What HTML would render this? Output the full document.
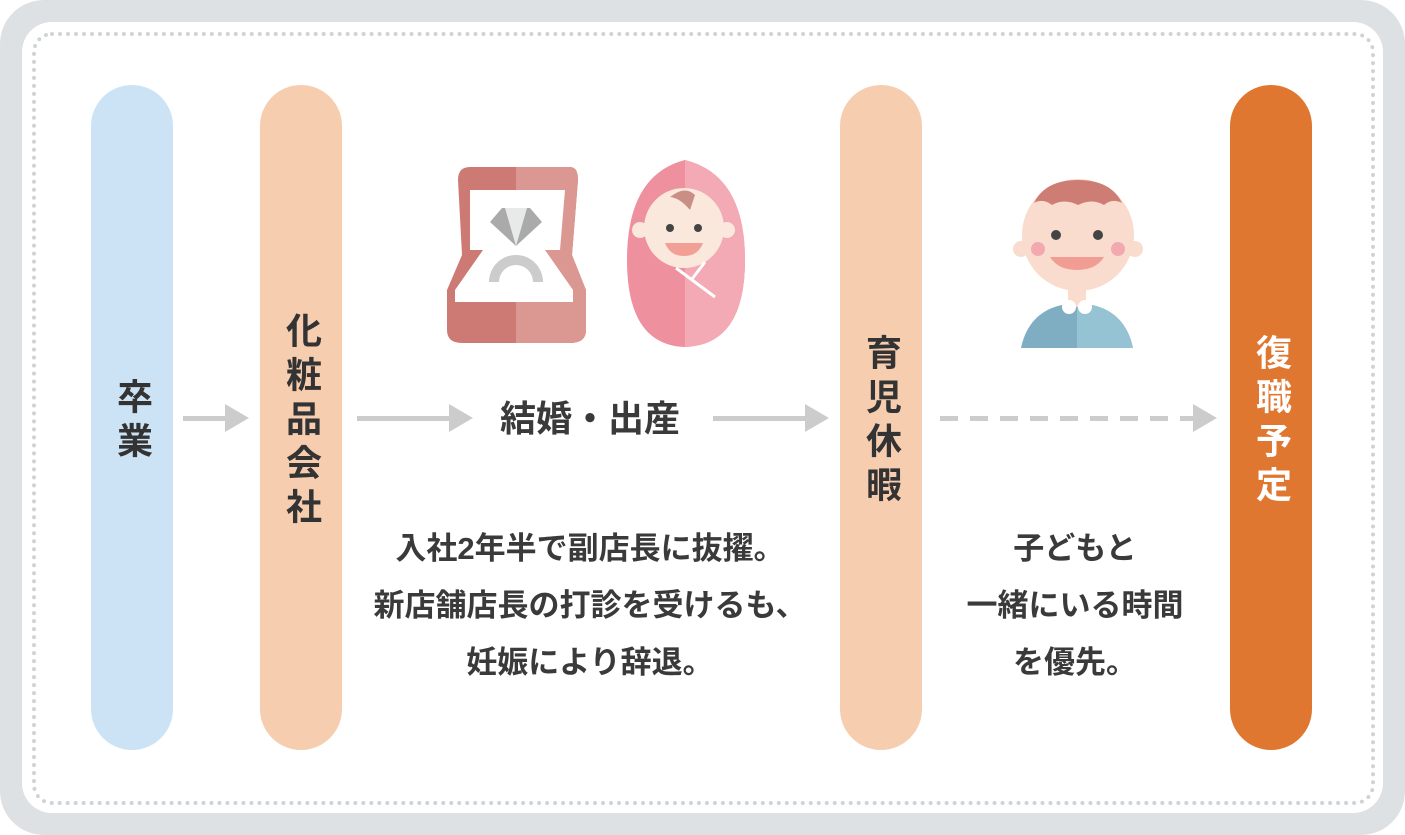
<!DOCTYPE html><html><head><meta charset="utf-8"><style>
body{margin:0;width:1405px;height:835px;background:#fff;position:relative;overflow:hidden;font-family:"Liberation Sans","Noto Sans CJK JP",sans-serif;color:#333}
.outer{position:absolute;left:0;top:0;width:1405px;height:835px;border-radius:44px;background:#dde1e3}
.inner{position:absolute;left:22px;top:22px;width:1361px;height:791px;border-radius:30px;background:#fff}
.dot{position:absolute;left:32px;top:32px;width:1335px;height:765px;border:4px dotted #cfd3d6;border-radius:20px}
.p{position:absolute;top:85px;width:82px;height:665px;border-radius:41px;display:flex;align-items:center;justify-content:center}
.v{writing-mode:vertical-rl;font-size:36px;font-weight:700;letter-spacing:8px;color:#333;margin-top:8px}
.a{position:absolute;height:5px;background:#ccc;top:416px}
.h{position:absolute;width:0;height:0;border-top:14px solid transparent;border-bottom:14px solid transparent;border-left:24px solid #ccc;top:404px}
.t{position:absolute;text-align:center;font-size:31px;line-height:57px;font-weight:700;color:#3a3a3a}
</style></head><body>
<div class="outer"></div><div class="inner"></div><div class="dot"></div>
<div class="p" style="left:91px;background:#cce3f5"><span class="v">卒業</span></div>
<div class="p" style="left:260px;background:#f7cdb0"><span class="v">化粧品会社</span></div>
<div class="p" style="left:840px;background:#f7cdb0"><span class="v">育児休暇</span></div>
<div class="p" style="left:1230px;background:#e07730"><span class="v" style="color:#fff">復職予定</span></div>
<div class="a" style="left:183px;width:44px"></div><div class="h" style="left:225px"></div>
<div class="a" style="left:357px;width:94px"></div><div class="h" style="left:449px"></div>
<div class="a" style="left:713px;width:94px"></div><div class="h" style="left:805px"></div>
<div class="a" style="left:940px;width:255px;background:repeating-linear-gradient(90deg,#ccc 0 18px,transparent 18px 30px)"></div><div class="h" style="left:1193px"></div>
<div class="t" style="left:440px;width:300px;top:390px;font-size:36px">結婚・出産</div>
<div class="t" style="left:340px;width:500px;top:520px">入社2年半で副店長に抜擢。<br>新店舗店長の打診を受けるも、<br>妊娠により辞退。</div>
<div class="t" style="left:925px;width:300px;top:520px">子どもと<br>一緒にいる時間<br>を優先。</div>
<svg style="position:absolute;left:0;top:0" width="1405" height="835">
<path d="M470 167 H570 Q578 167 578 180 L572 255 L586 290 V330 Q586 343 570 343 H462 Q447 343 447 330 V290 L462 255 L458 180 Q458 167 470 167Z" fill="#cd7a74"/>
<path d="M516 167 H570 Q578 167 578 180 L572 255 L586 290 V330 Q586 343 570 343 H516Z" fill="#db9792"/>
<path d="M470 190 H565 L560 250 L545 250 L573 290 V302 H455 V290 L483 250 L470 250Z" fill="#fff"/>
<polygon points="490,222 502,208 530,208 542,222 516,246" fill="#aaa"/>
<polygon points="505,208 527,208 516,246" fill="#e8eaea"/>
<path d="M489 282 A27 27 0 0 1 543 282 H533 A17 17 0 0 0 499 282Z" fill="#ccc"/>
<path d="M685 160 Q745 175 745 260 Q745 345 685 347 Q627 345 627 260 Q627 175 685 160Z" fill="#ee909e"/>
<path d="M685 160 Q745 175 745 260 Q745 345 685 347Z" fill="#f3aab5"/>
<circle cx="640" cy="230" r="8" fill="#fbe8dd"/><circle cx="727" cy="230" r="8" fill="#fbe8dd"/>
<circle cx="684" cy="228" r="40" fill="#fbe8dd"/>
<path d="M670 197 Q685 185 695 195 L690 210 Q680 198 670 197Z" fill="#c98f85"/>
<circle cx="670" cy="228" r="4" fill="#444"/><circle cx="698" cy="228" r="4" fill="#444"/>
<path d="M665 243 H703 Q698 256 684 256 Q670 256 665 243Z" fill="#f2a096"/>
<path d="M676 268 L715 297 M705 262 L692 279" stroke="#fff" stroke-width="3"/>
<path d="M1021 348 Q1030 305 1077 303 Q1124 305 1133 348Z" fill="#7faec3"/>
<path d="M1077 303 Q1124 305 1133 348 H1077Z" fill="#96c3d4"/>
<rect x="1068" y="285" width="18" height="22" fill="#f9dccd"/>
<circle cx="1069" cy="307" r="7" fill="#fff"/><circle cx="1085" cy="307" r="7" fill="#fff"/>
<circle cx="1021" cy="249" r="8" fill="#f9dccd"/><circle cx="1135" cy="249" r="8" fill="#f9dccd"/>
<circle cx="1078" cy="235" r="56" fill="#f9dccd"/>
<path d="M1034 203 Q1045 180 1078 180 Q1111 180 1122 203 Q1112 198 1104 205 Q1092 198 1078 205 Q1064 198 1052 205 Q1043 198 1034 203Z" fill="#ce7d74"/>
<circle cx="1056" cy="235" r="5" fill="#444"/><circle cx="1098" cy="235" r="5" fill="#444"/>
<circle cx="1038" cy="249" r="7" fill="#f3a9b0"/><circle cx="1118" cy="249" r="7" fill="#f3a9b0"/>
<path d="M1050 257 H1104 Q1096 270 1077 270 Q1058 270 1050 257Z" fill="#f29d94"/>
</svg>
</body></html>
